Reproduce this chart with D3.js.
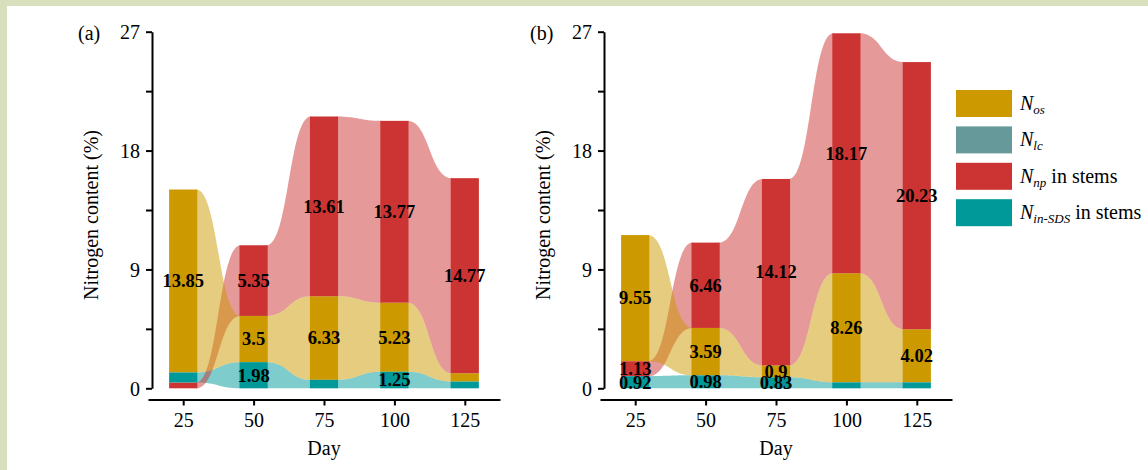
<!DOCTYPE html>
<html>
<head>
<meta charset="utf-8">
<script src="https://cdn.jsdelivr.net/npm/d3@7"></script>
<style>
  html, body { margin: 0; padding: 0; background: #ffffff; }
  svg { display: block; font-family: "Liberation Serif", "Times New Roman", serif; }
</style>
</head>
<body>
<svg id="chart" width="1148" height="470"></svg>
<script>
// ---------------- data ----------------
const days = [25, 50, 75, 100, 125];
const seriesKeys = ["Nos", "Nlc", "Nnp", "NinSDS"];
const seriesColors = ["#CC9900", "#669999", "#CC3333", "#009999"];
const legendMain = ["N", "N", "N", "N"];
const legendSub = ["os", "lc", "np", "in-SDS"];
const legendTail = ["", "", " in stems", " in stems"];

// panel (a)
const aNos    = [13.85, 3.5, 6.33, 5.23, 0.63];
const aNlc    = [0, 0, 0, 0, 0];
const aNnp    = [0.44, 5.35, 13.61, 13.77, 14.77];
const aNinSDS = [0.76, 1.98, 0.64, 1.25, 0.51];
// panel (b)
const bNos    = [9.55, 3.59, 0.9, 8.26, 4.02];
const bNlc    = [0, 0, 0, 0, 0];
const bNnp    = [1.13, 6.46, 14.12, 18.17, 20.23];
const bNinSDS = [0.92, 0.98, 0.83, 0.45, 0.45];

const yTickLabels = [0, 9, 18, 27];
const yMinorTicks = [0, 4.5, 9, 13.5, 18, 22.5, 27];
const xTickLabels = [25, 50, 75, 100, 125];
const panelLabels = ["(a)", "(b)"];

// ---------------- drawing ----------------
const svg = d3.select("#chart");

// frame bands (top & left)
svg.append("rect").attr("x", 0).attr("y", 0).attr("width", 1148).attr("height", 6).attr("fill", "#d8dfbc");
svg.append("rect").attr("x", 0).attr("y", 0).attr("width", 7).attr("height", 470).attr("fill", "#d8dfbc");

const panels = [
  { label: panelLabels[0], x0: 148, yAxisX: 152, series: [aNos, aNlc, aNnp, aNinSDS] },
  { label: panelLabels[1], x0: 600, yAxisX: 604, series: [bNos, bNlc, bNnp, bNinSDS] }
];

const yTop = 31.7, yBot = 388.3, xAxisY = 399.5, plotW = 352;
const barHalfDays = 5;

panels.forEach(p => {
  const g = svg.append("g");
  const x = d3.scaleLinear().domain([12.5, 137.5]).range([p.x0, p.x0 + plotW]);
  const y = d3.scaleLinear().domain([0, 27]).range([yBot, yTop]);

  // stack positions: ascending order per day
  const stacks = days.map((d, i) => {
    const items = seriesKeys.map((k, s) => ({ s, v: p.series[s][i] }));
    const sorted = items.slice().sort((a, b) => a.v - b.v);
    let acc = 0;
    const pos = {};
    sorted.forEach(it => { pos[it.s] = { y0: acc, y1: acc + it.v, v: it.v }; acc += it.v; });
    return pos;
  });

  // flows (draw teal, red, gold, lc order)
  const flowOrder = [3, 1, 2, 0];
  flowOrder.forEach(s => {
    for (let i = 0; i < days.length - 1; i++) {
      const a = stacks[i][s], b = stacks[i + 1][s];
      if (a.v === 0 && b.v === 0) continue;
      const xa = x(days[i] + barHalfDays) - 1, xb = x(days[i + 1] - barHalfDays) + 1;
      const xm = (xa + xb) / 2;
      const path = d3.path();
      path.moveTo(xa, y(a.y1));
      path.bezierCurveTo(xm, y(a.y1), xm, y(b.y1), xb, y(b.y1));
      path.lineTo(xb, y(b.y0));
      path.bezierCurveTo(xm, y(b.y0), xm, y(a.y0), xa, y(a.y0));
      path.closePath();
      g.append("path").attr("d", path.toString())
        .attr("fill", seriesColors[s]).attr("fill-opacity", 0.5);
    }
  });

  // bars
  days.forEach((d, i) => {
    seriesKeys.forEach((k, s) => {
      const st = stacks[i][s];
      if (st.v <= 0) return;
      g.append("rect")
        .attr("x", x(d - barHalfDays)).attr("width", x(d + barHalfDays) - x(d - barHalfDays))
        .attr("y", y(st.y1)).attr("height", y(st.y0) - y(st.y1))
        .attr("fill", seriesColors[s]);
    });
  });

  // value labels
  days.forEach((d, i) => {
    seriesKeys.forEach((k, s) => {
      const st = stacks[i][s];
      if (st.v < 0.8) return;
      g.append("text")
        .attr("x", x(d)).attr("y", y((st.y0 + st.y1) / 2))
        .attr("dy", "0.34em")
        .attr("text-anchor", "middle")
        .attr("font-weight", "bold").attr("font-size", 18.5)
        .attr("fill", "#000")
        .text(st.v);
    });
  });

  // y axis
  const yAxis = d3.axisLeft(y).tickValues(yMinorTicks).tickSize(6).tickSizeOuter(0)
    .tickFormat(v => yTickLabels.includes(v) ? v : "");
  const ya = g.append("g").attr("transform", `translate(${p.yAxisX},0)`).call(yAxis);
  ya.select(".domain").attr("stroke", "#000").attr("stroke-width", 2);
  ya.selectAll(".tick line").attr("stroke", "#000").attr("stroke-width", 2);
  ya.selectAll(".tick text").attr("font-size", 20).attr("font-family", "Liberation Serif")
    .attr("fill", "#000").attr("x", -12).attr("dy", "0.36em");

  // x axis
  const xAxis = d3.axisBottom(x).tickValues(xTickLabels).tickSize(6).tickSizeOuter(0);
  const xa = g.append("g").attr("transform", `translate(0,${xAxisY})`).call(xAxis);
  xa.select(".domain").attr("stroke", "#000").attr("stroke-width", 2);
  xa.selectAll(".tick line").attr("stroke", "#000").attr("stroke-width", 2);
  xa.selectAll(".tick text").attr("font-size", 20).attr("font-family", "Liberation Serif")
    .attr("fill", "#000").attr("y", 13);

  // axis titles
  g.append("text").attr("x", p.x0 + plotW / 2).attr("y", 455)
    .attr("text-anchor", "middle").attr("font-size", 20).attr("fill", "#000").text("Day");
  g.append("text").attr("transform", `translate(${p.yAxisX - 54},215) rotate(-90)`)
    .attr("text-anchor", "middle").attr("font-size", 20).attr("fill", "#000")
    .text("Nitrogen content (%)");

  // panel label
  g.append("text").attr("x", p.yAxisX - 74).attr("y", 40)
    .attr("font-size", 20).attr("fill", "#000").text(p.label);
});

// legend
const lg = svg.append("g");
seriesKeys.forEach((k, s) => {
  const yy = 90 + s * 36.4;
  lg.append("rect").attr("x", 956).attr("y", yy).attr("width", 56).attr("height", 27)
    .attr("fill", seriesColors[s]);
  const t = lg.append("text").attr("x", 1020).attr("y", yy + 20).attr("font-size", 20).attr("fill", "#000");
  t.append("tspan").attr("font-style", "italic").text(legendMain[s]);
  t.append("tspan").attr("font-style", "italic").attr("font-size", 13).attr("dy", 4).text(legendSub[s]);
  if (legendTail[s]) t.append("tspan").attr("dy", -4).text(legendTail[s]);
});
</script>
</body>
</html>
